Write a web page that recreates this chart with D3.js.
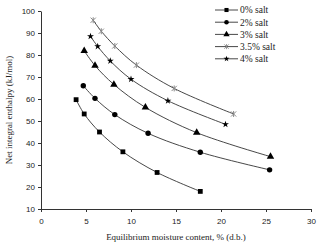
<!DOCTYPE html>
<html lang="en">
<head>
<meta charset="UTF-8">
<title>Net integral enthalpy</title>
<style>
  body { margin: 0; background: #fff; }
  svg { display: block; }
</style>
</head>
<body>
<div class="canvas"></div>
<script src="https://cdnjs.cloudflare.com/ajax/libs/d3/7.8.5/d3.min.js"></script>
<script>
// data: moisture content (% d.b.) and enthalpy (kJ/mol)
const seriesNames = ['0% salt', '2% salt', '3% salt', '3.5% salt', '4% salt'];
const salt0x = [3.9, 4.8, 6.5, 9.1, 12.9, 17.7];
const salt0y = [59.7, 53.2, 45.0, 36.0, 26.6, 18.0];
const salt2x = [4.7, 6.0, 8.2, 11.9, 17.7, 25.4];
const salt2y = [66.0, 60.3, 52.9, 44.4, 35.8, 27.8];
const salt3x = [4.8, 6.0, 8.1, 11.6, 17.3, 25.5];
const salt3y = [81.9, 75.2, 66.6, 56.2, 44.7, 33.8];
const salt35x = [5.8, 6.7, 8.2, 10.6, 14.8, 21.4];
const salt35y = [95.8, 90.8, 84.1, 75.4, 64.8, 53.2];
const salt4x = [5.5, 6.3, 7.7, 10.0, 14.1, 20.5];
const salt4y = [88.5, 83.9, 77.3, 69.0, 59.2, 48.5];
const xTicks = [0, 5, 10, 15, 20, 25, 30];
const yTicks = [10, 20, 30, 40, 50, 60, 70, 80, 90, 100];

const xs = [salt0x, salt2x, salt3x, salt35x, salt4x];
const ys = [salt0y, salt2y, salt3y, salt35y, salt4y];
const markers = ['square', 'circle', 'triangle', 'asterisk', 'star'];

const width = 321, height = 244;
const margin = { top: 11, right: 10, bottom: 35, left: 41 };

const svg = d3.select('.canvas').append('svg')
  .attr('width', width)
  .attr('height', height);

const x = d3.scaleLinear().domain([0, 30]).range([margin.left, width - margin.right]);
const y = d3.scaleLinear().domain([10, 100]).range([height - margin.bottom, margin.top]);

// axes
const xAxis = svg.append('g')
  .attr('transform', `translate(0, ${y(10)})`)
  .call(d3.axisBottom(x).tickValues(xTicks).tickSize(3).tickSizeOuter(0));
const yAxis = svg.append('g')
  .attr('transform', `translate(${x(0)}, 0)`)
  .call(d3.axisLeft(y).tickValues(yTicks).tickSize(3).tickSizeOuter(0));

[xAxis, yAxis].forEach(a => {
  a.select('.domain').attr('stroke', '#333').attr('stroke-width', 1);
  a.selectAll('.tick line').attr('stroke', '#333');
  a.selectAll('text')
    .attr('fill', '#222')
    .style('font-family', 'Liberation Sans, Arial, sans-serif')
    .style('font-size', '8px');
});
xAxis.selectAll('text').attr('dy', '1.1em');

// axis titles
svg.append('text')
  .attr('x', (x(0) + x(30)) / 2)
  .attr('y', 240)
  .attr('text-anchor', 'middle')
  .attr('fill', '#222')
  .style('font-family', 'Liberation Serif, Times New Roman, serif')
  .style('font-size', '9px')
  .text('Equilibrium moisture content, % (d.b.)');

svg.append('text')
  .attr('transform', `translate(12, ${(y(10) + y(100)) / 2}) rotate(-90)`)
  .attr('text-anchor', 'middle')
  .attr('fill', '#222')
  .style('font-family', 'Liberation Serif, Times New Roman, serif')
  .style('font-size', '9px')
  .text('Net integral enthalpy (kJ/mol)');

// marker drawing, k scales the marker
function drawMarker(g, type, cx, cy, k = 1) {
  const t = `translate(${cx}, ${cy}) scale(${k})`;
  if (type === 'square') {
    g.append('rect').attr('x', -2.4).attr('y', -2.4)
      .attr('width', 4.8).attr('height', 4.8).attr('fill', '#000')
      .attr('transform', t);
  } else if (type === 'circle') {
    g.append('circle').attr('r', 2.7).attr('fill', '#000').attr('transform', t);
  } else if (type === 'triangle') {
    g.append('path')
      .attr('d', d3.symbol().type(d3.symbolTriangle).size(24)())
      .attr('transform', t)
      .attr('fill', '#000');
  } else if (type === 'asterisk') {
    g.append('path')
      .attr('d', 'M-2.6,-2.6L2.6,2.6M-2.6,2.6L2.6,-2.6M0,-3L0,3')
      .attr('transform', t)
      .attr('stroke', '#888').attr('stroke-width', 1).attr('fill', 'none');
  } else {
    g.append('path')
      .attr('d', d3.symbol().type(d3.symbolStar).size(15)())
      .attr('transform', t)
      .attr('fill', '#000');
  }
}

const line = d3.line()
  .x(d => x(d[0]))
  .y(d => y(d[1]))
  .curve(d3.curveCatmullRom);

seriesNames.forEach((name, i) => {
  const pts = xs[i].map((v, j) => [v, ys[i][j]]);
  const g = svg.append('g');
  g.append('path')
    .datum(pts)
    .attr('d', line)
    .attr('fill', 'none')
    .attr('stroke', '#333')
    .attr('stroke-width', 0.9);
  pts.forEach(p => drawMarker(g, markers[i], x(p[0]), y(p[1])));
});

// legend
const legend = svg.append('g');
seriesNames.forEach((name, i) => {
  const ly = 10 + i * 12.2;
  legend.append('line')
    .attr('x1', 215).attr('x2', 238)
    .attr('y1', ly).attr('y2', ly)
    .attr('stroke', '#333').attr('stroke-width', 0.9);
  drawMarker(legend, markers[i], 226.5, ly, 0.85);
  legend.append('text')
    .attr('x', 240)
    .attr('y', ly)
    .attr('dy', '0.35em')
    .attr('fill', '#222')
    .style('font-family', 'Liberation Serif, Times New Roman, serif')
    .style('font-size', '9.5px')
    .text(name);
});
</script>
</body>
</html>
